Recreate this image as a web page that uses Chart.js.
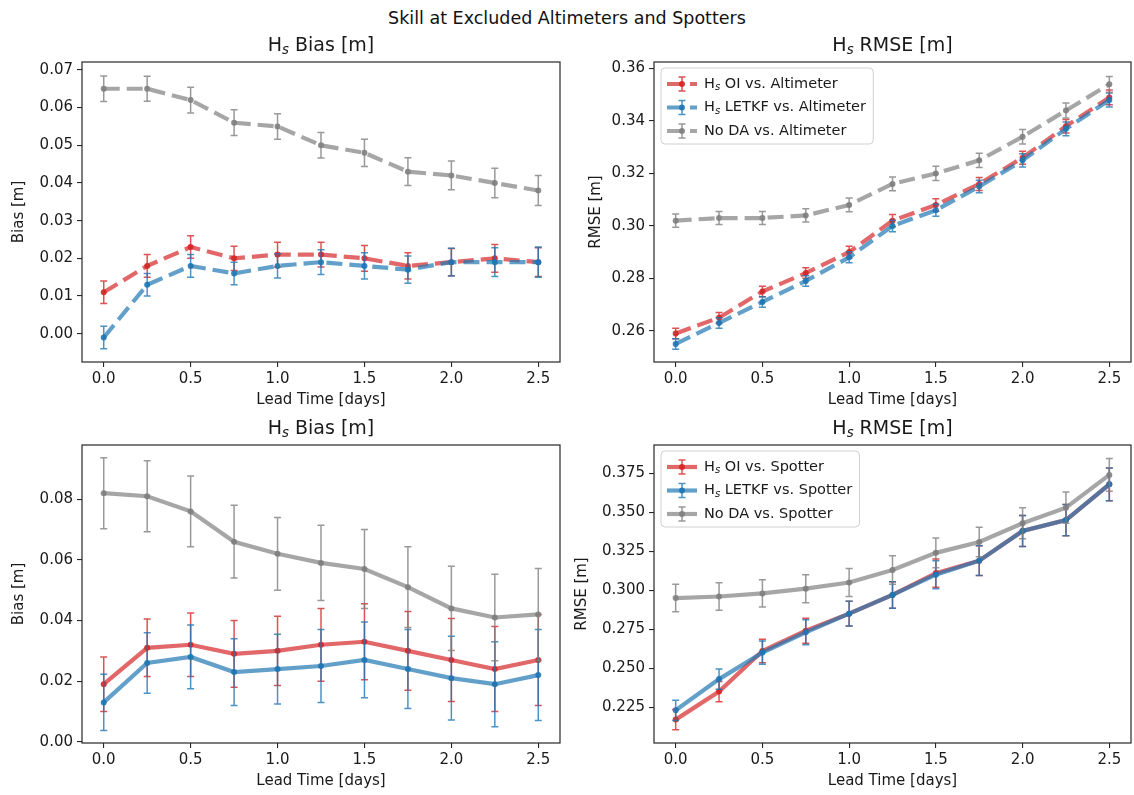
<!DOCTYPE html>
<html>
<head>
<meta charset="utf-8">
<script src="https://cdn.jsdelivr.net/npm/chart.js@4.4.0/dist/chart.umd.min.js"></script>
<style>
  body { margin: 0; background: #fff; }
  #fig { position: relative; width: 1134px; height: 795px; overflow: hidden; font-family: "DejaVu Sans", sans-serif; }
  #suptitle { position: absolute; left: 0; width: 1134px; top: 8px; text-align: center; font-size: 17.5px; line-height: 20px; color: #111; }
  canvas { position: absolute; }
</style>
</head>
<body>
<div id="fig">
  <div id="suptitle">Skill at Excluded Altimeters and Spotters</div>
  <canvas id="altBias" width="564" height="380" style="left:0;top:30px"></canvas>
  <canvas id="altRmse" width="563" height="380" style="left:572px;top:30px"></canvas>
  <canvas id="spBias" width="564" height="378" style="left:0;top:413px"></canvas>
  <canvas id="spRmse" width="563" height="378" style="left:572px;top:413px"></canvas>
</div>
<script>
// data (lead time in days)
const leadTime = [0, 0.25, 0.5, 0.75, 1.0, 1.25, 1.5, 1.75, 2.0, 2.25, 2.5];
const xTicks = [0, 0.5, 1.0, 1.5, 2.0, 2.5];

// altimeter bias
const altBiasOI = [0.011, 0.018, 0.023, 0.020, 0.021, 0.021, 0.020, 0.018, 0.019, 0.020, 0.019];
const altBiasOIErr = [0.003, 0.003, 0.003, 0.0032, 0.0033, 0.0033, 0.0034, 0.0035, 0.0036, 0.0037, 0.0038];
const altBiasLETKF = [-0.001, 0.013, 0.018, 0.016, 0.018, 0.019, 0.018, 0.017, 0.019, 0.019, 0.019];
const altBiasLETKFErr = [0.003, 0.003, 0.003, 0.003, 0.0032, 0.0033, 0.0035, 0.0036, 0.0037, 0.0038, 0.004];
const altBiasNoDA = [0.065, 0.065, 0.062, 0.056, 0.055, 0.050, 0.048, 0.043, 0.042, 0.040, 0.038];
const altBiasNoDAErr = [0.0034, 0.0033, 0.0034, 0.0034, 0.0034, 0.0034, 0.0036, 0.0037, 0.0038, 0.0039, 0.004];
const altBiasTicks = [0.00, 0.01, 0.02, 0.03, 0.04, 0.05, 0.06, 0.07];

// altimeter rmse
const altRmseOI = [0.259, 0.265, 0.275, 0.282, 0.290, 0.302, 0.308, 0.316, 0.326, 0.338, 0.349];
const altRmseOIErr = [0.002, 0.002, 0.002, 0.002, 0.0022, 0.0023, 0.0024, 0.0025, 0.0025, 0.0026, 0.0028];
const altRmseLETKF = [0.255, 0.263, 0.271, 0.279, 0.288, 0.300, 0.306, 0.315, 0.325, 0.337, 0.348];
const altRmseLETKFErr = [0.002, 0.002, 0.002, 0.002, 0.0021, 0.0022, 0.0023, 0.0024, 0.0025, 0.0026, 0.0027];
const altRmseNoDA = [0.302, 0.303, 0.303, 0.304, 0.308, 0.316, 0.320, 0.325, 0.334, 0.344, 0.354];
const altRmseNoDAErr = [0.0025, 0.0025, 0.0025, 0.0025, 0.0026, 0.0026, 0.0027, 0.0027, 0.0028, 0.0029, 0.003];
const altRmseTicks = [0.26, 0.28, 0.30, 0.32, 0.34, 0.36];

// spotter bias
const spBiasOI = [0.019, 0.031, 0.032, 0.029, 0.030, 0.032, 0.033, 0.030, 0.027, 0.024, 0.027];
const spBiasOIErr = [0.009, 0.0095, 0.0105, 0.011, 0.0114, 0.012, 0.0125, 0.013, 0.0137, 0.014, 0.015];
const spBiasLETKF = [0.013, 0.026, 0.028, 0.023, 0.024, 0.025, 0.027, 0.024, 0.021, 0.019, 0.022];
const spBiasLETKFErr = [0.0093, 0.010, 0.0105, 0.011, 0.0115, 0.012, 0.0125, 0.013, 0.0138, 0.014, 0.015];
const spBiasNoDA = [0.082, 0.081, 0.076, 0.066, 0.062, 0.059, 0.057, 0.051, 0.044, 0.041, 0.042];
const spBiasNoDAErr = [0.0117, 0.0117, 0.0117, 0.012, 0.012, 0.0124, 0.013, 0.0133, 0.0139, 0.0143, 0.0152];
const spBiasTicks = [0.00, 0.02, 0.04, 0.06, 0.08];

// spotter rmse
const spRmseOI = [0.217, 0.235, 0.261, 0.274, 0.285, 0.297, 0.311, 0.319, 0.338, 0.345, 0.368];
const spRmseOIErr = [0.0065, 0.0065, 0.0075, 0.008, 0.008, 0.0085, 0.009, 0.0095, 0.01, 0.01, 0.0105];
const spRmseLETKF = [0.223, 0.243, 0.260, 0.273, 0.285, 0.297, 0.310, 0.319, 0.338, 0.345, 0.368];
const spRmseLETKFErr = [0.0065, 0.0065, 0.0075, 0.008, 0.008, 0.0085, 0.009, 0.0095, 0.01, 0.01, 0.0105];
const spRmseNoDA = [0.295, 0.296, 0.298, 0.301, 0.305, 0.313, 0.324, 0.331, 0.343, 0.353, 0.374];
const spRmseNoDAErr = [0.0088, 0.0088, 0.0088, 0.009, 0.009, 0.0092, 0.0095, 0.0095, 0.01, 0.01, 0.0105];
const spRmseTicks = [0.225, 0.250, 0.275, 0.300, 0.325, 0.350, 0.375];

const RED = [214, 39, 40];
const BLUE = [31, 119, 180];
const GRAY = [128, 128, 128];
const FONT = 'DejaVu Sans';
const INK = '#1a1a1a';

function rgba(c, a) {
  return `rgba(${c[0]},${c[1]},${c[2]},${a})`;
}

// draws "H_s ..." with a small italic subscript s
function drawLabel(ctx, text, x, y, size, align) {
  const main = `${size}px "${FONT}"`;
  const sub = `italic ${size * 0.7}px "${FONT}"`;
  let parts = [[text, main, 0]];
  if (text.startsWith('H_s')) {
    parts = [['H', main, 0], ['s', sub, size * 0.25], [text.slice(3), main, 0]];
  }
  let total = 0;
  parts.forEach(p => { ctx.font = p[1]; total += ctx.measureText(p[0]).width; });
  let cx = align === 'center' ? x - total / 2 : x;
  ctx.textAlign = 'left';
  ctx.textBaseline = 'middle';
  parts.forEach(p => {
    ctx.font = p[1];
    ctx.fillText(p[0], cx, y + p[2]);
    cx += ctx.measureText(p[0]).width;
  });
  return total;
}

function errTick(ctx, x, y1, y2, cap) {
  ctx.beginPath();
  ctx.moveTo(x, y1); ctx.lineTo(x, y2);
  ctx.moveTo(x - cap, y1); ctx.lineTo(x + cap, y1);
  ctx.moveTo(x - cap, y2); ctx.lineTo(x + cap, y2);
  ctx.stroke();
}

// error bars through the chart's own scales
const errorBars = {
  id: 'errorBars',
  afterDatasetDraw(chart, args) {
    const ds = chart.data.datasets[args.index];
    if (!ds.errors) return;
    const ctx = chart.ctx;
    const xs = chart.scales.x, ys = chart.scales.y;
    ctx.save();
    ctx.strokeStyle = ds.errColor;
    ctx.lineWidth = 1.5;
    ds.data.forEach((p, i) => {
      const x = xs.getPixelForValue(p.x);
      errTick(ctx, x, ys.getPixelForValue(p.y - ds.errors[i]), ys.getPixelForValue(p.y + ds.errors[i]), 3.5);
    });
    ctx.restore();
  }
};

// full box around the axes
const frame = {
  id: 'frame',
  afterDatasetsDraw(chart) {
    const a = chart.chartArea;
    const ctx = chart.ctx;
    ctx.save();
    ctx.strokeStyle = '#262626';
    ctx.lineWidth = 1.2;
    ctx.strokeRect(a.left, a.top, a.right - a.left, a.bottom - a.top);
    ctx.restore();
  }
};

// subplot title centred over the axes
const panelTitle = {
  id: 'panelTitle',
  afterDraw(chart, args, opts) {
    const a = chart.chartArea;
    const ctx = chart.ctx;
    ctx.save();
    ctx.fillStyle = INK;
    drawLabel(ctx, opts.text, (a.left + a.right) / 2, a.top - 16, 19, 'center');
    ctx.restore();
  }
};

// legend in a rounded box in the upper left
const boxLegend = {
  id: 'boxLegend',
  afterDraw(chart, args, opts) {
    if (!opts.show) return;
    const ctx = chart.ctx;
    const a = chart.chartArea;
    const sets = chart.data.datasets;
    ctx.save();
    ctx.font = `14.5px "${FONT}"`;
    let textW = 0;
    sets.forEach(ds => { textW = Math.max(textW, ctx.measureText(ds.label.replace('H_s', 'Hs')).width); });
    const bx = a.left + 7, by = a.top + 6;
    const bw = textW + 48, bh = 76;
    ctx.fillStyle = 'rgba(255,255,255,0.8)';
    ctx.strokeStyle = '#d0d0d0';
    ctx.lineWidth = 1;
    ctx.beginPath();
    ctx.roundRect(bx, by, bw, bh, 4);
    ctx.fill();
    ctx.stroke();
    sets.forEach((ds, i) => {
      const y = by + 16 + i * 23.5;
      const hx0 = bx + 6, hx1 = hx0 + 30, cx = (hx0 + hx1) / 2;
      ctx.strokeStyle = ds.borderColor;
      ctx.lineWidth = ds.borderWidth;
      ctx.setLineDash(ds.borderDash);
      ctx.beginPath();
      ctx.moveTo(hx0, y); ctx.lineTo(hx1, y);
      ctx.stroke();
      ctx.setLineDash([]);
      ctx.strokeStyle = ds.errColor;
      ctx.lineWidth = 1.5;
      errTick(ctx, cx, y - 7, y + 7, 3.5);
      ctx.fillStyle = ds.pointBackgroundColor;
      ctx.beginPath();
      ctx.arc(cx, y, 3, 0, Math.PI * 2);
      ctx.fill();
      ctx.fillStyle = INK;
      drawLabel(ctx, ds.label, hx1 + 7, y, 14.5, 'left');
    });
    ctx.restore();
  }
};

function makeSeries(label, values, errors, color, order, dashed) {
  return {
    label: label,
    order: order,
    data: leadTime.map((t, i) => ({ x: t, y: values[i] })),
    errors: errors,
    borderColor: rgba(color, 0.7),
    borderWidth: 4.2,
    borderDash: dashed ? [16, 7] : [],
    pointRadius: 3,
    pointBorderWidth: 0,
    pointBackgroundColor: rgba(color, 0.9),
    errColor: rgba(color, 0.8),
    tension: 0,
    fill: false
  };
}

function makePanel(id, cfg) {
  const font = { family: FONT, size: 15 };
  const tickGrid = { display: true, drawOnChartArea: false, drawTicks: true, tickLength: 5, color: '#262626', lineWidth: 1.1 };
  new Chart(document.getElementById(id), {
    type: 'line',
    data: { datasets: cfg.series },
    options: {
      responsive: false,
      animation: false,
      devicePixelRatio: 1,
      layout: { padding: { top: 32, left: 0, right: 0, bottom: 0 } },
      plugins: {
        legend: { display: false },
        tooltip: { enabled: false },
        panelTitle: { text: cfg.title },
        boxLegend: { show: cfg.legend }
      },
      scales: {
        x: {
          type: 'linear',
          min: -0.125,
          max: 2.625,
          afterBuildTicks: s => { s.ticks = xTicks.map(v => ({ value: v })); },
          afterFit: s => { s.height = 48; },
          ticks: { callback: v => v.toFixed(1), font: font, color: INK, padding: 3, maxRotation: 0, autoSkip: false },
          grid: tickGrid,
          border: { display: false },
          title: { display: true, text: 'Lead Time [days]', font: font, color: INK, padding: { top: 0, bottom: 1 } }
        },
        y: {
          min: cfg.yMin,
          max: cfg.yMax,
          afterBuildTicks: s => { s.ticks = cfg.yTicks.map(v => ({ value: v })); },
          afterFit: s => { s.width = 82; },
          ticks: { callback: v => v.toFixed(cfg.dec), font: font, color: INK, padding: 4, autoSkip: false },
          grid: tickGrid,
          border: { display: false },
          title: { display: true, text: cfg.yLabel, font: font, color: INK, padding: { top: cfg.yPad, bottom: 0 } }
        }
      }
    },
    plugins: [errorBars, frame, panelTitle, boxLegend]
  });
}

makePanel('altBias', {
  title: 'H_s Bias [m]', yLabel: 'Bias [m]', yMin: -0.0075, yMax: 0.0721, yTicks: altBiasTicks, dec: 2, yPad: 10, legend: false,
  series: [
    makeSeries('H_s OI vs. Altimeter', altBiasOI, altBiasOIErr, RED, 3, true),
    makeSeries('H_s LETKF vs. Altimeter', altBiasLETKF, altBiasLETKFErr, BLUE, 2, true),
    makeSeries('No DA vs. Altimeter', altBiasNoDA, altBiasNoDAErr, GRAY, 1, true)
  ]
});

makePanel('altRmse', {
  title: 'H_s RMSE [m]', yLabel: 'RMSE [m]', yMin: 0.2481, yMax: 0.3625, yTicks: altRmseTicks, dec: 2, yPad: 15, legend: true,
  series: [
    makeSeries('H_s OI vs. Altimeter', altRmseOI, altRmseOIErr, RED, 3, true),
    makeSeries('H_s LETKF vs. Altimeter', altRmseLETKF, altRmseLETKFErr, BLUE, 2, true),
    makeSeries('No DA vs. Altimeter', altRmseNoDA, altRmseNoDAErr, GRAY, 1, true)
  ]
});

makePanel('spBias', {
  title: 'H_s Bias [m]', yLabel: 'Bias [m]', yMin: -0.0004, yMax: 0.0979, yTicks: spBiasTicks, dec: 2, yPad: 10, legend: false,
  series: [
    makeSeries('H_s OI vs. Spotter', spBiasOI, spBiasOIErr, RED, 3, false),
    makeSeries('H_s LETKF vs. Spotter', spBiasLETKF, spBiasLETKFErr, BLUE, 2, false),
    makeSeries('No DA vs. Spotter', spBiasNoDA, spBiasNoDAErr, GRAY, 1, false)
  ]
});

makePanel('spRmse', {
  title: 'H_s RMSE [m]', yLabel: 'RMSE [m]', yMin: 0.202, yMax: 0.3932, yTicks: spRmseTicks, dec: 3, yPad: 1, legend: true,
  series: [
    makeSeries('H_s OI vs. Spotter', spRmseOI, spRmseOIErr, RED, 3, false),
    makeSeries('H_s LETKF vs. Spotter', spRmseLETKF, spRmseLETKFErr, BLUE, 2, false),
    makeSeries('No DA vs. Spotter', spRmseNoDA, spRmseNoDAErr, GRAY, 1, false)
  ]
});
</script>
</body>
</html>
